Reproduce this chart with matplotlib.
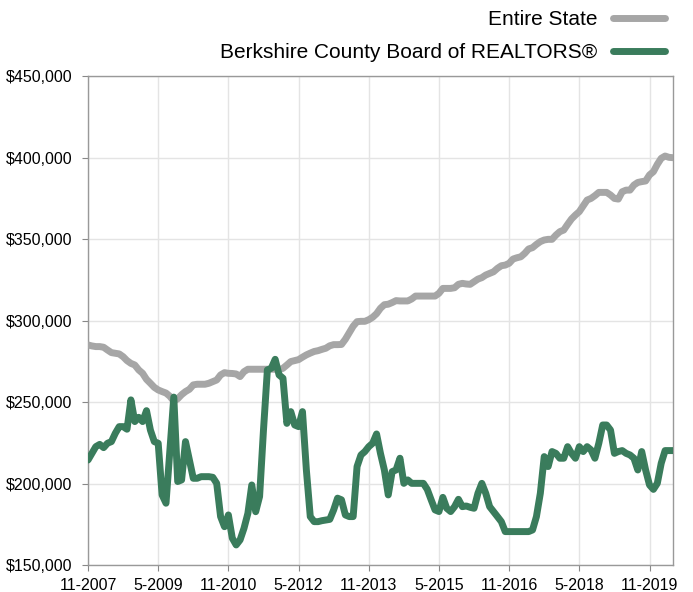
import matplotlib.pyplot as plt
from matplotlib.lines import Line2D

plt.rcParams['font.family'] = ['Liberation Sans', 'DejaVu Sans']

# monthly median prices, 11-2007 .. 5-2020 (in $1000)
entire_state = [
    285, 284.4, 284, 284, 283.6, 281.9, 280.3, 279.9, 279.5, 277.8,
    275.4, 273.7, 272.7, 269.7, 267.6, 263.9, 261.5, 259, 257.4, 256.4,
    255.5, 253.5, 250.5, 252, 254.5, 256.4, 257.8, 260.5, 260.9, 260.9,
    260.9, 261.5, 262.5, 263.5, 266.6, 268, 267.6, 267.5, 267.2, 265.6,
    268.6, 270.1, 270.1, 270.1, 270.1, 270.1, 270.1, 270.1, 270.1, 269.7,
    270.7, 272.7, 274.8, 275.4, 276, 277.5, 278.9, 280, 281, 281.5,
    282.3, 283, 284.5, 285.2, 285.2, 285.3, 288.5, 292.5, 296.5, 299.3,
    299.5, 299.5, 300.5, 302, 304.2, 307.5, 309.7, 310, 311, 312.2,
    312, 312, 312, 313.2, 315, 315, 315, 315, 315, 315,
    316.7, 319.7, 319.7, 319.7, 320.1, 322.2, 322.8, 322.4, 322.2, 323.8,
    325.4, 326.3, 327.9, 328.9, 329.9, 332, 333.6, 334, 335.1, 337.7,
    338.5, 339.1, 341.2, 343.9, 344.7, 346.7, 348.4, 349.4, 349.8, 349.8,
    352.4, 354.5, 355.5, 359, 362.3, 364.7, 366.8, 370.4, 373.9, 374.9,
    376.6, 378.6, 378.6, 378.6, 377, 374.9, 374.5, 379, 380, 380,
    383.1, 384.7, 385.2, 385.6, 389.3, 391.3, 395.8, 399.5, 400.9, 400.1,
    399.9,
]
berkshire = [
    214.4, 218.5, 222.6, 224, 222, 224.7, 225.7, 230.8, 234.9, 234.9,
    233.3, 251.3, 238, 240.6, 238, 244.7, 232.8, 225.7, 224.7, 193,
    187.9, 220, 253, 201.2, 202.2, 225.7, 214.4, 203.2, 203.2, 204.2,
    204.2, 204.2, 203.8, 200.1, 179.7, 173.5, 180.7, 166.5, 162.3, 165.4,
    172.5, 181.7, 199.1, 182.7, 192, 232.8, 269.7, 270.7, 276.2, 266.6,
    264.6, 236.9, 244.1, 235.9, 234.9, 244.1, 208.3, 179.7, 176.6, 176.6,
    177.2, 177.6, 178, 183.8, 191, 190, 180.7, 179.7, 179.7, 210.4,
    217.5, 219.6, 222.6, 224.7, 230.4, 218.5, 208.3, 193, 207.3, 208.3,
    215.5, 200.1, 202.2, 200.1, 200.1, 200.1, 200.1, 196.4, 190, 183.8,
    182.8, 191.5, 184.8, 182.8, 185.8, 190.3, 185.8, 186.2, 185.4, 184.8,
    194, 200.1, 194, 185.8, 182.8, 179.7, 176.6, 170.5, 170.5, 170.5,
    170.5, 170.5, 170.5, 170.5, 171.5, 179.7, 194, 216.5, 210.4, 219.6,
    218.5, 215.5, 215.5, 222.6, 218.5, 215.5, 222.6, 219.6, 222.6, 220.6,
    215.5, 224.7, 235.9, 235.9, 232.8, 218.5, 219.6, 220.2, 218.5, 217.5,
    215.5, 208.3, 219.6, 208.3, 199.1, 196.4, 200.1, 212.4, 220.2, 220.2,
    220.2,
]
tick_labels = ["11-2007", "5-2009", "11-2010", "5-2012", "11-2013",
               "5-2015", "11-2016", "5-2018", "11-2019"]
y_ticks = [150, 200, 250, 300, 350, 400, 450]

GRAY = "#a6a6a6"
GREEN = "#3a7c5c"

fig = plt.figure(figsize=(6.93, 5.92), dpi=100)
ax = fig.add_axes([0.127, 0.0456, 0.844, 0.826])

x = list(range(len(entire_state)))
ax.plot(x, entire_state, color=GRAY, lw=5, solid_joinstyle="round", solid_capstyle="round", zorder=3)
ax.plot(x, berkshire, color=GREEN, lw=5, solid_joinstyle="round", solid_capstyle="round", zorder=4)

ax.set_xlim(0, len(x) - 1)
ax.set_ylim(150, 450)
ax.set_xticks([i * 18 for i in range(len(tick_labels))])
ax.set_xticklabels(tick_labels)
ax.set_yticks(y_ticks)
ax.set_yticklabels([f"${v},000" for v in y_ticks])
ax.tick_params(labelsize=11.5, length=4, color="#888888")
ax.tick_params(axis="x", pad=5.5)
ax.tick_params(axis="y", pad=7)

ax.grid(True, color="#e4e4e4", lw=1)
ax.set_axisbelow(True)
for s in ax.spines.values():
    s.set_color("#999999")
    s.set_linewidth(1)

handles = [Line2D([], [], color=GRAY, lw=5, solid_capstyle="round"),
           Line2D([], [], color=GREEN, lw=5, solid_capstyle="round")]
fig.legend(handles, ["Entire State", "Berkshire County Board of REALTORS®"],
           loc="upper right", bbox_to_anchor=(0.975, 1.0), frameon=False,
           markerfirst=False, fontsize=15, handlelength=2.5,
           handletextpad=0.75, labelspacing=0.65, borderpad=0.0)

fig.savefig("out.png", dpi=100)
